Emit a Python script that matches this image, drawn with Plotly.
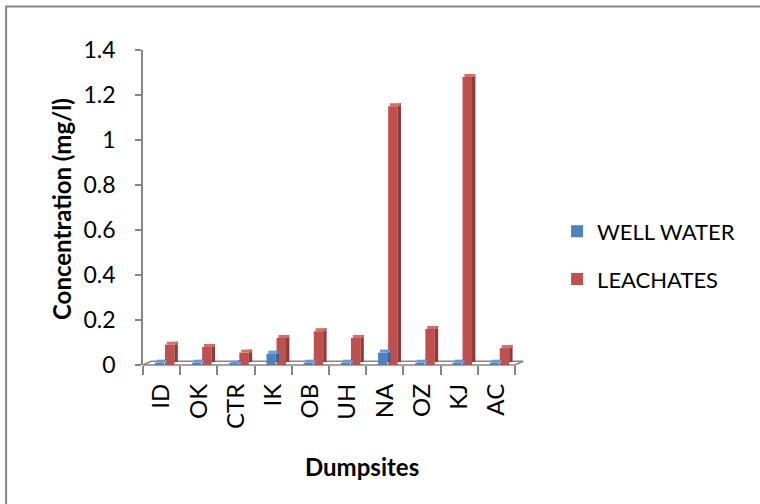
import plotly.graph_objects as go

# Dumpsite codes and measured concentrations (mg/l)
sites = ["ID", "OK", "CTR", "IK", "OB", "UH", "NA", "OZ", "KJ", "AC"]
well_water = [0.01, 0.01, 0.005, 0.05, 0.01, 0.01, 0.055, 0.01, 0.01, 0.01]
leachates = [0.09, 0.08, 0.055, 0.12, 0.15, 0.12, 1.15, 0.16, 1.28, 0.075]
y_ticks = [0, 0.2, 0.4, 0.6, 0.8, 1, 1.2, 1.4]
y_tick_text = ["0", "0.2", "0.4", "0.6", "0.8", "1", "1.2", "1.4"]

FONT = "Lato"
BLUE, BLUE_SIDE, BLUE_TOP = "#4F81BD", "#3A6391", "#6E98CC"
RED, RED_SIDE, RED_TOP = "#C0504D", "#8E3A38", "#D06F6C"
AXIS_GREY = "#868686"
DEPTH = 0.0135  # apparent depth of the columns, in data units

fig = go.Figure()

# front faces (legend entries)
for name, vals, col, off, w in [
    ("WELL WATER", well_water, BLUE, -0.18, 0.245),
    ("LEACHATES", leachates, RED, 0.09, 0.255),
]:
    fig.add_trace(go.Bar(x=sites, y=vals, name=name, marker_color=col,
                         marker_line_width=0, offset=off, width=w,
                         legendgroup=name, opacity=1))

# side and top faces give the columns a 3-D look
for vals, side, top, off, w in [
    (well_water, BLUE_SIDE, BLUE_TOP, -0.18, 0.245),
    (leachates, RED_SIDE, RED_TOP, 0.09, 0.255),
]:
    fig.add_trace(go.Bar(x=sites, y=vals, base=[DEPTH] * len(vals),
                         marker_color=side, marker_line_width=0,
                         offset=off + w, width=0.09, showlegend=False,
                         hoverinfo="skip", opacity=1))
    fig.add_trace(go.Bar(x=sites, y=[DEPTH] * len(vals), base=vals,
                         marker_color=top, marker_line_width=0,
                         offset=off + 0.05, width=w + 0.03, showlegend=False,
                         hoverinfo="skip", opacity=1))

# floor of the plot
fig.add_shape(type="path", xref="paper", yref="paper",
              path="M 0,0 L 1,0 L 1.022,0.012 L 0.022,0.012 Z",
              line=dict(color=AXIS_GREY, width=1.5), fillcolor="white",
              layer="below")

# outer frame
fig.add_shape(type="rect", xref="paper", yref="paper",
              x0=-0.368, x1=1.7, y0=-0.5, y1=1.138,
              line=dict(color=AXIS_GREY, width=2), fillcolor="rgba(0,0,0,0)",
              layer="below")

fig.update_layout(
    width=760, height=504,
    margin=dict(l=143, r=245, t=50, b=139),
    paper_bgcolor="white", plot_bgcolor="white",
    barmode="overlay",
    font=dict(family=FONT, color="black"),
    showlegend=True,
    legend=dict(xref="container", yref="container", x=0.733, y=0.493,
                xanchor="left", yanchor="middle",
                font=dict(family=FONT, size=22, color="black"),
                traceorder="grouped", tracegroupgap=16,
                bgcolor="rgba(0,0,0,0)"),
    xaxis=dict(type="category", range=[-0.5, 9.5], showline=False,
               ticks="outside", tickson="boundaries", ticklen=9,
               tickcolor=AXIS_GREY, tickwidth=1.5, tickangle=-90,
               tickfont=dict(family=FONT, size=24, color="black"),
               ticklabelstandoff=13, showgrid=False, zeroline=False),
    yaxis=dict(range=[0, 1.4], tickvals=y_ticks, ticktext=y_tick_text,
               showline=True, linecolor=AXIS_GREY, linewidth=1.5,
               ticks="outside", ticklen=6, tickcolor=AXIS_GREY, tickwidth=1.5,
               tickfont=dict(family=FONT, size=23, color="black"),
               ticklabelstandoff=15, showgrid=False, zeroline=False),
    annotations=[
        dict(text="<b>Dumpsites</b>", xref="paper", yref="paper",
             x=(362 - 143) / 372, y=(365 - 466) / 315,
             xanchor="center", yanchor="middle", showarrow=False,
             font=dict(family=FONT, size=24, color="black")),
        dict(text="<b>Concentration (mg/l)</b>", xref="paper", yref="paper",
             x=(61 - 143) / 372, y=(365 - 209) / 315, textangle=-90,
             xanchor="center", yanchor="middle", showarrow=False,
             font=dict(family=FONT, size=24, color="black")),
    ],
)

fig.write_html("out.html")
